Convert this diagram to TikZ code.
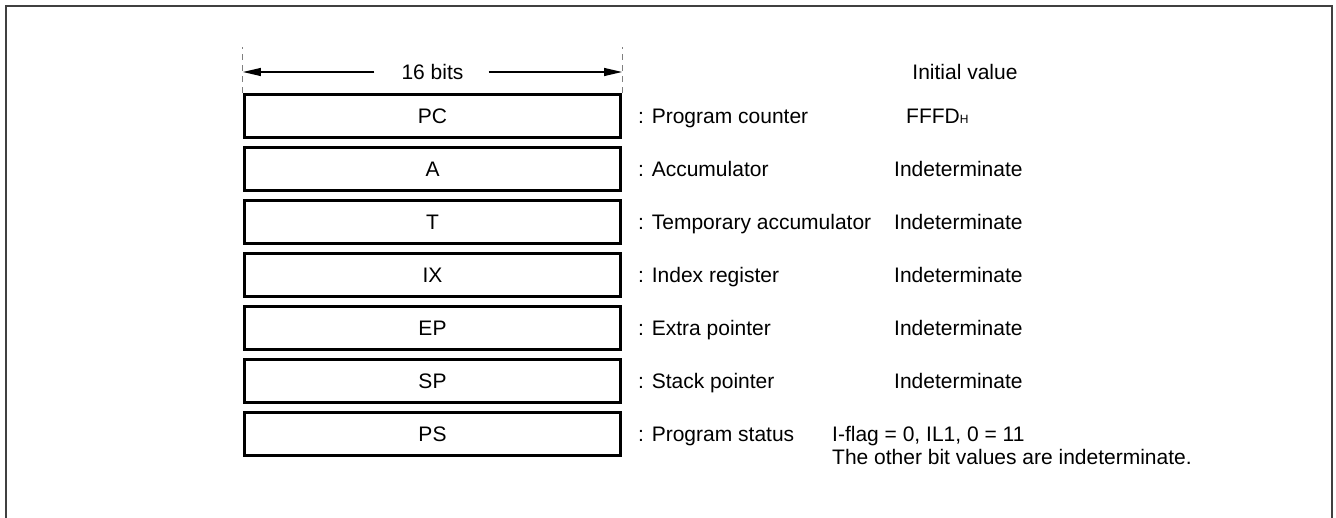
\documentclass[tikz,border=0pt]{standalone}
\usepackage{fontspec}
\setmainfont{Liberation Sans}
\usetikzlibrary{arrows.meta}
\begin{document}
\begin{tikzpicture}[x=1pt,y=-1pt,
  txt/.style={inner sep=0pt, font=\fontsize{21}{25}\selectfont},
  reg/.style={draw, line width=2.6pt, minimum width=376.5pt, minimum height=43.5pt, inner sep=0pt, font=\fontsize{21}{25}\selectfont},
  lbl/.style={txt, anchor=base west},
  guide/.style={draw=gray, line width=1pt, dash pattern=on 6pt off 5pt},
  dim/.style={line width=1.2pt, -{Triangle[length=18pt,width=8pt]}}]
\useasboundingbox (0,0) rectangle (1336,518);
\draw[line width=1.5pt, draw=black!75] (6,518) -- (6,6) -- (1332,6) -- (1332,518);

% registers
\node[reg] (pc) at (432.5,116) {PC};
\node[reg] (a)  at (432.5,169) {A};
\node[reg] (t)  at (432.5,222) {T};
\node[reg] (ix) at (432.5,275) {IX};
\node[reg] (ep) at (432.5,328) {EP};
\node[reg] (sp) at (432.5,381) {SP};
\node[reg] (ps) at (432.5,434) {PS};

% width dimension
\draw[guide] (pc.north west) -- ++(0,-46) coordinate (gl);
\draw[guide] (pc.north east) -- ++(0,-46) coordinate (gr);
\node[txt] (bits) at (432.5,72) {16 bits};
\draw[dim] ([xshift=-27pt]bits.west) -- (bits.west -| gl);
\draw[dim] ([xshift=25pt]bits.east) -- (bits.east -| gr);
\node[txt] (init) at (965,72) {Initial value};

% names
\node[lbl] (npc) at (638,123.5) {: Program counter};
\node[lbl] (na)  at (638,176.5) {: Accumulator};
\node[lbl] (nt)  at (638,229.5) {: Temporary accumulator};
\node[lbl] (nix) at (638,282.5) {: Index register};
\node[lbl] (nep) at (638,335.5) {: Extra pointer};
\node[lbl] (nsp) at (638,388.5) {: Stack pointer};
\node[lbl] (nps) at (638,441.5) {: Program status};

% initial values
\node[lbl] (vpc) at (906,123.5) {FFFD\raisebox{-0.5pt}{\fontsize{12}{12}\selectfont H}};
\node[lbl] (va)  at (894,176.5) {Indeterminate};
\node[lbl] (vt)  at (894,229.5) {Indeterminate};
\node[lbl] (vix) at (894,282.5) {Indeterminate};
\node[lbl] (vep) at (894,335.5) {Indeterminate};
\node[lbl] (vsp) at (894,388.5) {Indeterminate};
\node[lbl] (vps) at (832,441.5) {I-flag = 0, IL1, 0 = 11};
\node[lbl] (vps2) at (832,464) {The other bit values are indeterminate.};
\end{tikzpicture}
\end{document}
